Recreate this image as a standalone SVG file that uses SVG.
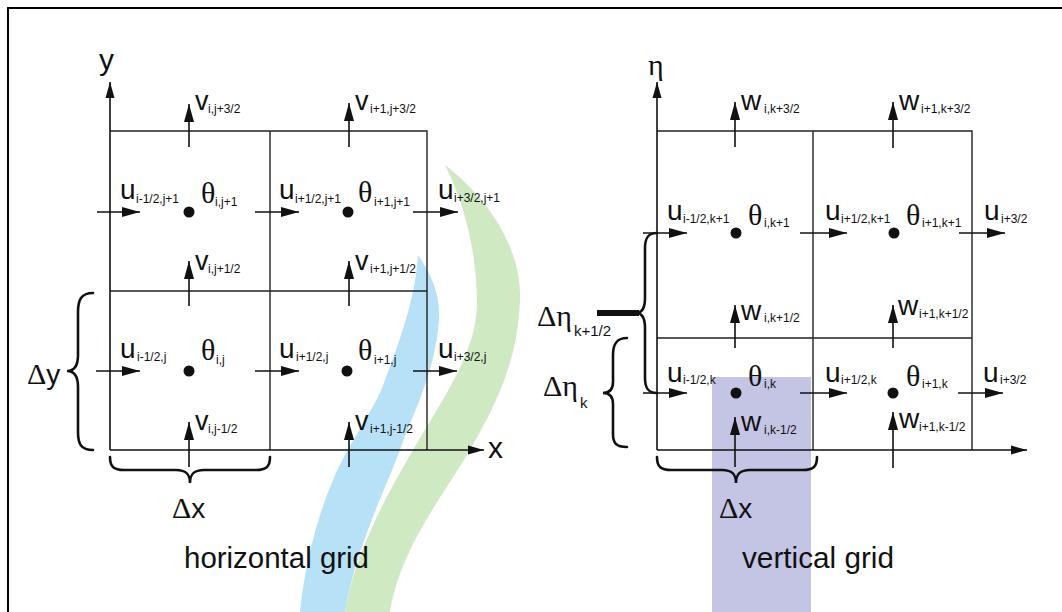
<svg xmlns="http://www.w3.org/2000/svg" width="1062" height="612" viewBox="0 0 1062 612">
<defs>
<marker id="ah" markerUnits="userSpaceOnUse" markerWidth="18" markerHeight="10" refX="18" refY="5" orient="auto"><path d="M0,0 L18,5 L0,10 z" fill="#111"/></marker>
<marker id="ax" markerUnits="userSpaceOnUse" markerWidth="16" markerHeight="10" refX="16" refY="5" orient="auto"><path d="M0,0.5 L16,5 L0,9.5 z" fill="#111"/></marker>
<clipPath id="rc"><rect x="0" y="0" width="1027" height="612"/></clipPath>
<style>
.g{stroke:#222;stroke-width:1.4;fill:none}
.a{stroke:#111;stroke-width:1.6;fill:none;marker-end:url(#ah)}
.ax{stroke:#111;stroke-width:1.6;fill:none;marker-end:url(#ax)}
.br{stroke:#111;stroke-width:2.6;fill:none;stroke-linecap:round}
.m{font-family:"Liberation Sans",Arial,sans-serif;font-size:28px;fill:#111}
.v{font-family:"Liberation Sans",Arial,sans-serif;font-size:27px;fill:#111}
.s{font-family:"Liberation Sans",Arial,sans-serif;font-size:12px;fill:#111}
.t{font-family:"Liberation Serif","Times New Roman",serif;font-size:30px;fill:#111}
.cap{font-family:"Liberation Sans",Arial,sans-serif;font-size:29px;fill:#111}
.d{fill:#111}
</style>
</defs>
<rect width="1062" height="612" fill="#fff"/>
<g id="background">
<path d="M445,165 C490,200 522,250 520,300 C518,350 505,390 470,450 C440,500 400,550 390,612 L345,612 C355,550 390,490 413,450 C445,395 478,350 477,300 C476,250 465,205 445,165 z" fill="#cfe9c3"/>
<path d="M418,255 C435,280 442,300 438,330 C432,380 410,420 400,450 C385,490 355,550 345,612 L300,612 C305,560 320,510 333,480 C350,440 375,410 385,380 C400,340 415,300 418,255 z" fill="#b7e1f6"/>
<rect x="712" y="377" width="99" height="235" fill="#c4c4e4"/>
</g>
<g id="frame">
<path d="M8,612 L8,8 L1062,8" stroke="#000" stroke-width="2" fill="none"/>
</g>
<g id="horizontal-grid">
<path class="g" d="M110,131 L427,131 L427,450 M270,131 L270,450 M110,291 L427,291"/>
</g>
<g id="vertical-grid">
<path class="g" d="M657,131 L972,131 L972,450 M813,131 L813,450 M657,338 L972,338"/>
</g>
<g id="connectors">
<line class="ax" x1="110" y1="450" x2="110" y2="82"/>
<line class="ax" x1="110" y1="450" x2="484" y2="450"/>
<line class="ax" x1="657" y1="450" x2="657" y2="82"/>
<line class="ax" x1="657" y1="450" x2="1027" y2="450"/>
<line class="a" x1="189" y1="147" x2="189" y2="104"/>
<line class="a" x1="189" y1="306" x2="189" y2="261"/>
<line class="a" x1="189" y1="467" x2="189" y2="422"/>
<line class="a" x1="349" y1="147" x2="349" y2="103"/>
<line class="a" x1="349" y1="306" x2="349" y2="261"/>
<line class="a" x1="349" y1="467" x2="349" y2="422"/>
<line class="a" x1="97" y1="212" x2="140" y2="212"/>
<line class="a" x1="255" y1="212" x2="299" y2="212"/>
<line class="a" x1="413" y1="212" x2="458" y2="212"/>
<line class="a" x1="96" y1="371" x2="140" y2="371"/>
<line class="a" x1="255" y1="371" x2="299" y2="371"/>
<line class="a" x1="413" y1="371" x2="457" y2="371"/>
<line class="a" x1="735" y1="147" x2="735" y2="102"/>
<line class="a" x1="735" y1="348" x2="735" y2="305"/>
<line class="a" x1="735" y1="467" x2="735" y2="417"/>
<line class="a" x1="893" y1="148" x2="893" y2="102"/>
<line class="a" x1="893" y1="348" x2="893" y2="305"/>
<line class="a" x1="893" y1="468" x2="893" y2="412"/>
<line class="a" x1="643" y1="233" x2="687" y2="233"/>
<line class="a" x1="800" y1="233" x2="847" y2="233"/>
<line class="a" x1="959" y1="233" x2="1005" y2="233"/>
<line class="a" x1="643" y1="393" x2="687" y2="393"/>
<line class="a" x1="800" y1="393" x2="847" y2="393"/>
<line class="a" x1="958" y1="393" x2="1003" y2="393"/>
</g>
<g id="braces">
<path class="br" d="M93,293 C81,293 78,300 78,312 L78,355 C78,366 74,371 67,371 C74,371 78,376 78,387 L78,432 C78,444 81,450 93,450"/>
<path class="br" d="M110,457 C110,467 114,470 124,470 L176,470 C186,470 190,474 190,483 C190,474 194,470 204,470 L256,470 C266,470 270,467 270,457"/>
<path class="br" d="M657,457 C657,467 661,470 671,470 L722,470 C732,470 736,474 736,483 C736,474 740,470 750,470 L803,470 C813,470 817,467 817,457"/>
<path class="br" d="M627,338 C616,338 613,345 613,355 L613,382 C613,389 610,393 603,393 C610,393 613,397 613,404 L613,434 C613,443 616,447 627,447"/>
<path class="br" d="M657,233 C648,233 645,238 645,248 L645,298 C645,308 642,313 636,313 C642,313 645,318 645,328 L645,378 C645,388 648,393 657,393"/>
<line x1="597" y1="313" x2="639" y2="313" stroke="#111" stroke-width="6"/>
</g>
<g id="points">
<circle class="d" cx="189" cy="212" r="5.5"/>
<circle class="d" cx="348" cy="212" r="5.5"/>
<circle class="d" cx="189" cy="371" r="5.5"/>
<circle class="d" cx="347" cy="371" r="5.5"/>
<circle class="d" cx="736" cy="233" r="5.5"/>
<circle class="d" cx="894" cy="233" r="5.5"/>
<circle class="d" cx="736" cy="393" r="5.5"/>
<circle class="d" cx="893" cy="393" r="5.5"/>
</g>
<g id="axis-labels">
<text class="m" x="99" y="70" style="font-size:30px">y</text>
<text class="m" x="488" y="458" style="font-size:30px">x</text>
<text class="t" x="648" y="75">η</text>
</g>
<g id="h-top-row">
<text class="v" x="195" y="110">v</text><text class="s" x="208" y="113">i,j+3/2</text>
<text class="v" x="355" y="110">v</text><text class="s" x="370" y="113">i+1,j+3/2</text>
<text class="m" x="120" y="199">u</text><text class="s" x="136" y="203">i-1/2,j+1</text>
<text class="t" x="201" y="203">θ</text><text class="s" x="215" y="206">i,j+1</text>
<text class="m" x="279" y="199">u</text><text class="s" x="295" y="203">i+1/2,j+1</text>
<text class="t" x="358" y="202">θ</text><text class="s" x="374" y="206">i+1,j+1</text>
<text class="m" x="438" y="199">u</text><text class="s" x="454" y="202">i+3/2,j+1</text>
</g>
<g id="h-bottom-row">
<text class="v" x="195" y="270">v</text><text class="s" x="208" y="273">i,j+1/2</text>
<text class="v" x="355" y="270">v</text><text class="s" x="370" y="273">i+1,j+1/2</text>
<text class="m" x="120" y="358">u</text><text class="s" x="137" y="361">i-1/2,j</text>
<text class="t" x="201" y="360">θ</text><text class="s" x="216" y="364">i,j</text>
<text class="m" x="279" y="358">u</text><text class="s" x="296" y="361">i+1/2,j</text>
<text class="t" x="358" y="360">θ</text><text class="s" x="374" y="364">i+1,j</text>
<text class="m" x="438" y="358">u</text><text class="s" x="454" y="361">i+3/2,j</text>
<text class="v" x="195" y="430">v</text><text class="s" x="208" y="433">i,j-1/2</text>
<text class="v" x="355" y="430">v</text><text class="s" x="370" y="433">i+1,j-1/2</text>
</g>
<g id="h-deltas">
<text class="t" x="27" y="384">Δ<tspan style="font-family:'Liberation Sans',Arial,sans-serif;font-size:28px">y</tspan></text>
<text class="t" x="172" y="518">Δ<tspan style="font-family:'Liberation Sans',Arial,sans-serif;font-size:28px">x</tspan></text>
<text class="cap" x="184" y="568" textLength="185" lengthAdjust="spacingAndGlyphs">horizontal grid</text>
</g>
<g id="v-top-row">
<text class="m" x="741" y="110">w</text><text class="s" x="764" y="113">i,k+3/2</text>
<text class="m" x="899" y="110">w</text><text class="s" x="921" y="113">i+1,k+3/2</text>
<text class="m" x="667" y="220">u</text><text class="s" x="683" y="223">i-1/2,k+1</text>
<text class="t" x="748" y="225">θ</text><text class="s" x="764" y="227">i,k+1</text>
<text class="m" x="825" y="220">u</text><text class="s" x="841" y="223">i+1/2,k+1</text>
<text class="t" x="906" y="225">θ</text><text class="s" x="922" y="227">i+1,k+1</text>
<g clip-path="url(#rc)"><text class="m" x="984" y="220">u</text><text class="s" x="1001" y="223">i+3/2</text></g>
<text class="m" x="741" y="320">w</text><text class="s" x="764" y="322">i,k+1/2</text>
<text class="m" x="898" y="315">w</text><text class="s" x="919" y="318">i+1,k+1/2</text>
</g>
<g id="v-bottom-row">
<text class="m" x="667" y="382">u</text><text class="s" x="683" y="384">i-1/2,k</text>
<text class="t" x="748" y="386">θ</text><text class="s" x="764" y="388">i,k</text>
<text class="m" x="825" y="382">u</text><text class="s" x="841" y="384">i+1/2,k</text>
<text class="t" x="906" y="386">θ</text><text class="s" x="922" y="388">i+1,k</text>
<g clip-path="url(#rc)"><text class="m" x="983" y="382">u</text><text class="s" x="1000" y="384">i+3/2</text></g>
<text class="m" x="741" y="431">w</text><text class="s" x="764" y="434">i,k-1/2</text>
<text class="m" x="899" y="428">w</text><text class="s" x="919" y="431">i+1,k-1/2</text>
</g>
<g id="v-deltas">
<text class="t" x="537" y="326">Δη</text><text class="s" x="574" y="336" style="font-size:15px">k+1/2</text>
<text class="t" x="543" y="396">Δη</text><text class="s" x="580" y="408" style="font-size:15px">k</text>
<text class="t" x="719" y="518">Δ<tspan style="font-family:'Liberation Sans',Arial,sans-serif;font-size:28px">x</tspan></text>
<text class="cap" x="742" y="568" textLength="152" lengthAdjust="spacingAndGlyphs">vertical grid</text>
</g>
</svg>
